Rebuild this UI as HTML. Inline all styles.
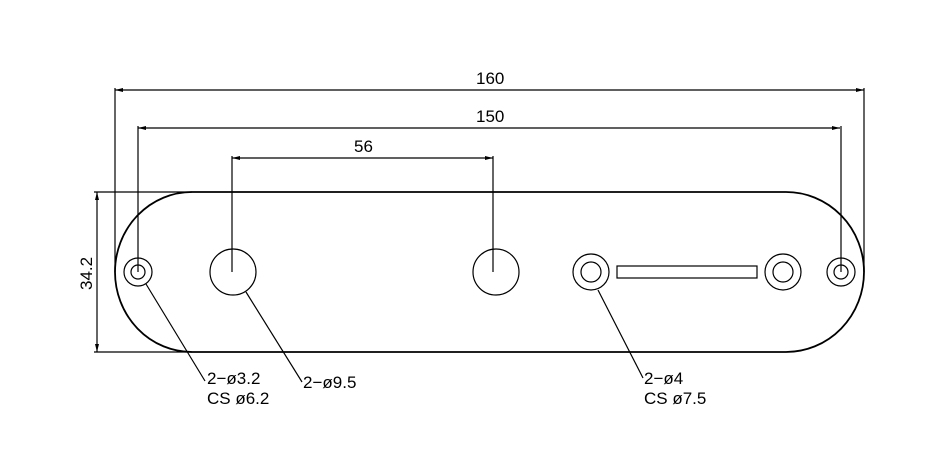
<!DOCTYPE html>
<html><head><style>body{margin:0;background:#fff}svg{display:block}text{font-family:"Liberation Sans",sans-serif;font-size:17px;fill:#000}</style></head>
<body>
<svg width="948" height="458" viewBox="0 0 948 458" xmlns="http://www.w3.org/2000/svg">
<g fill="none" stroke="#000" stroke-width="1.2">
<path d="M192 192 H786 A78 80 0 0 1 786 352 H192 A77 80 0 0 1 192 192 Z" stroke-width="1.8"/>
<line x1="115" y1="90" x2="864" y2="90"/><line x1="115" y1="88" x2="115" y2="272"/><line x1="864" y1="88" x2="864" y2="272"/>
<line x1="138" y1="128" x2="840" y2="128"/><line x1="138" y1="126" x2="138" y2="272"/><line x1="841" y1="126" x2="841" y2="272"/>
<line x1="232" y1="158" x2="493" y2="158"/><line x1="232" y1="156" x2="232" y2="272"/><line x1="493" y1="156" x2="493" y2="272"/>
<line x1="97" y1="192" x2="97" y2="352"/><line x1="94" y1="192" x2="192" y2="192"/><line x1="94" y1="352" x2="192" y2="352"/>
<circle cx="138" cy="272" r="14"/><circle cx="138" cy="272" r="7"/>
<circle cx="233" cy="272" r="23"/><circle cx="496" cy="272" r="23"/>
<circle cx="591" cy="272" r="18"/><circle cx="591" cy="272" r="10"/>
<circle cx="783" cy="272" r="18"/><circle cx="783" cy="272" r="10"/>
<circle cx="841" cy="272" r="14"/><circle cx="841" cy="272" r="7"/>
<rect x="617" y="266" width="140" height="12"/>
<line x1="146" y1="284" x2="205" y2="381"/><line x1="246" y1="292" x2="302" y2="382"/><line x1="598" y1="290" x2="643" y2="378"/>
</g>
<g fill="#000">
<path d="M115 90 l8 -2 v4z M864 90 l-8 -2 v4z M138 128 l8 -2 v4z M840 128 l-8 -2 v4z M232 158 l8 -2 v4z M493 158 l-8 -2 v4z M97 192 l-2 8 h4z M97 352 l-2 -8 h4z"/>
</g>
<text x="476" y="84">160</text>
<text x="476" y="122">150</text>
<text x="354" y="152">56</text>
<text transform="translate(92 290) rotate(-90)">34.2</text>
<text x="207" y="384">2−ø3.2</text>
<text x="207" y="404">CS ø6.2</text>
<text x="303" y="388">2−ø9.5</text>
<text x="644" y="384">2−ø4</text>
<text x="644" y="404">CS ø7.5</text>
</svg>
</body></html>
